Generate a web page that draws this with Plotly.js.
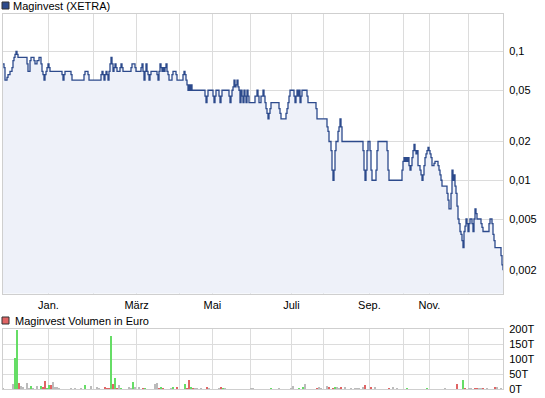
<!DOCTYPE html>
<html>
<head>
<meta charset="utf-8">
<script src="https://cdn.plot.ly/plotly-3.0.1.min.js"></script>
<style>html,body{margin:0;padding:0;background:#fff;}#chart{width:545px;height:398px;}</style>
</head>
<body>
<div id="chart"></div>
<script>
// ---- data ----
const priceDay = [0,0.5,1,2,2.5,3.5,4.5,5,5.5,6,6.5,7,7.5,12,12.5,13.5,14,15.5,16,17,18,19,19.5,20,20.5,21,21.5,22,22.5,23,23.5,29.5,30,30.5,31,34,34.5,40.5,41,42.5,43,49,49.5,50,50.5,51,51.5,52,52.5,53,53.5,54,54.5,55,55.5,56,56.5,57,58.5,59,59.5,60,64,64.5,66,66.5,69,69.5,70,70.5,71,71.5,72,72.5,73,73.5,74,77,77.5,78,78.5,79,79.5,80,80.5,81,81.5,82,82.5,83,84.5,85,86.5,87,90,90.5,91,91.5,92,92.5,93,93.5,94,94.5,101,101.5,102,102.5,105,105.5,106,106.5,108,108.5,109,109.5,113,113.5,114,114.5,115,115.5,116,116.5,117,117.5,118,118.5,119,119.5,120,120.5,121,121.5,122,122.5,123,
126,127,127.5,128,129,130,130.5,131,131.5,132,132.5,133,133.5,134,138,138.5,139,141.5,142,142.5,143,143.5,145.5,146,146.5,147,147.5,148,148.5,149,149.5,152,152.5,156.5,157,162,162.5,163,164,164.5,165,165.5,166,166.5,167.5,168,168.5,169,169.5,180,180.5,181,181.5,182,182.5,183.5,184,184.5,186.5,187,187.5,192,192.5,193,199.5,200,200.5,201,201.5,202,202.5,203,203.5,204,204.5,205,205.5,206,206.5,207,207.5,208.5,209,209.5,210,210.5,211,211.5,212,212.5,213,213.5,214,214.5,215.5,216,217.5,218,218.5,219,219.5,222,222.5,223,224,224.5,225,225.5,226,226.5,227,227.5,228,228.5,229,229.5,230,230.5,231,231.5,232,232.5,233,233.5,234.5,235,235.5,236,236.5,237,239,239.5,240,243,243.5,244.5,245,245.5,246,249,249.5,250];
const priceVal = [0.08,0.075,0.06,0.063,0.066,0.07,0.075,0.085,0.09,0.095,0.1,0.095,0.09,0.08,0.07,0.085,0.09,0.085,0.08,0.085,0.09,0.08,0.07,0.066,0.06,0.066,0.07,0.075,0.08,0.075,0.07,0.066,0.06,0.066,0.07,0.066,0.06,0.066,0.07,0.066,0.06,0.066,0.07,0.066,0.06,0.066,0.07,0.066,0.06,0.07,0.08,0.09,0.08,0.07,0.075,0.08,0.075,0.07,0.075,0.08,0.075,0.07,0.075,0.08,0.075,0.07,0.075,0.08,0.07,0.06,0.07,0.08,0.07,0.066,0.06,0.066,0.07,0.066,0.06,0.07,0.08,0.075,0.07,0.075,0.07,0.075,0.08,0.07,0.066,0.06,0.066,0.07,0.066,0.06,0.066,0.07,0.066,0.06,0.055,0.05,0.055,0.05,0.055,0.05,0.045,0.04,0.045,0.05,0.045,0.04,0.045,0.05,0.045,0.04,0.045,0.05,0.045,0.04,0.045,0.05,0.053,0.06,0.053,0.055,0.06,0.053,0.05,0.04,0.05,0.045,0.04,0.05,0.045,0.04,0.05,0.045,0.04,
0.045,0.05,0.045,0.04,0.045,0.05,0.045,0.04,0.036,0.033,0.03,0.033,0.036,0.04,0.036,0.033,0.03,0.033,0.036,0.04,0.045,0.05,0.045,0.04,0.045,0.05,0.045,0.05,0.04,0.045,0.05,0.045,0.04,0.036,0.03,0.026,0.024,0.02,0.017,0.012,0.01,0.012,0.017,0.02,0.024,0.026,0.03,0.026,0.02,0.017,0.012,0.01,0.012,0.017,0.02,0.017,0.012,0.01,0.012,0.017,0.02,0.017,0.012,0.01,0.012,0.014,0.015,0.014,0.015,0.014,0.015,0.013,0.012,0.013,0.015,0.017,0.019,0.017,0.016,0.017,0.013,0.012,0.011,0.01,0.011,0.013,0.015,0.016,0.017,0.018,0.017,0.016,0.015,0.013,0.0135,0.014,0.013,0.012,0.011,0.01,0.009,0.0079,0.007,0.006,0.0079,0.012,0.01,0.011,0.009,0.0079,0.0063,0.005,0.0046,0.004,0.0038,0.0034,0.003,0.004,0.0044,0.005,0.0046,0.004,0.0046,0.005,0.0046,0.004,0.005,0.006,0.0055,0.005,0.0046,0.0043,0.004,0.0046,0.005,0.0046,0.0038,0.0034,0.003,0.0026,0.0022,0.002];

// volume in thousand euro (T); direction: u = up, d = down, n = unchanged
const volDay = [0,5,6,7,8,9,10,12,13,14,15,17,19,20,21,22,23,24,25,26,27,28,34,36,39,41,44,47,48,51,52,53,54,55,56,57,58,59,63,64,65,66,68,70,71,76,77,78,79,80,84,85,87,91,92,93,94,95,96,97,99,102,103,108,109,110,111,124,125,
134,138,144,145,148,150,151,157,158,159,162,163,165,166,167,168,169,171,174,176,177,178,180,181,184,186,193,195,197,202,212,221,227,230,231,233,234,236,237,238,239,240,242,246,247,249];
const volT = [3,17,104,199,20,10,7,20,4,10,3,10,10,7,27,3,13,13,23,8,8,4,3,3,3,13,10,7,3,7,3,3,178,17,37,3,13,3,7,3,23,7,7,3,3,17,20,3,7,3,3,7,7,17,3,30,7,3,3,3,3,7,3,3,7,3,3,3,3,
3,3,3,10,3,7,17,3,7,3,10,7,3,7,7,3,7,7,3,3,3,3,7,13,7,7,3,7,3,3,3,3,17,30,3,3,3,3,3,3,3,3,3,7,7,3];
const volDir = ['n','n','u','u','d','n','n','n','n','u','n','n','u','d','d','u','u','d','n','n','n','n','n','n','n','u','n','n','n','d','d','d','u','d','u','d','n','u','n','n','u','n','n','d','u','n','n','d','u','d','n','u','d','u','d','d','u','d','n','n','n','d','n','n','d','u','n','n','n',
'u','n','n','n','u','u','n','d','n','n','n','d','d','u','n','n','d','n','n','n','n','n','n','d','d','n','d','n','n','u','u','n','d','u','d','n','n','d','d','n','n','d','n','d','n','n'];

const monthPos = [22.7,45.2,66.8,88.2,104.7,123.8,144.2,160.2,183.2,200.3,213.2,232.8];
const monthLbl = ['Jan.','','März','','Mai','','Juli','','Sep.','','Nov.',''];
const priceTicks = [0.002,0.005,0.01,0.02,0.05,0.1];
const priceTickLbl = ['0,002','0,005','0,01','0,02','0,05','0,1'];
const volTicks = [0,50,100,150,200];
const volTickLbl = ['0T','50T','100T','150T','200T'];
const title1 = 'Maginvest (XETRA)';
const title2 = 'Maginvest Volumen in Euro';

// ---- styling ----
const dirColor = {u:'#66dd66', d:'#e06464', n:'#bbbbbb'};
const grid = '#dcdcdc';
const font = {family:'"Liberation Sans", Arial, sans-serif', size:11, color:'#000'};

const traces = [
  {x: priceDay, y: priceVal, type:'scatter', mode:'lines', line:{shape:'hv', color:'#2c4a8c', width:1.3},
   fill:'tozeroy', fillcolor:'#eef1f9', xaxis:'x', yaxis:'y', hoverinfo:'skip'},
  {x: volDay, y: volT, type:'bar', width:0.8, marker:{color: volDir.map(d => dirColor[d])},
   xaxis:'x2', yaxis:'y2', hoverinfo:'skip'}
];

const H = 398, mt = 14, mb = 9, ph = H - mt - mb;
const pyToPaper = py => (H - mb - py) / ph;
const pxToPaper = px => (px - 3) / 500;

const axX = {range:[0,250], tickvals: monthPos, ticktext: monthLbl, showgrid:true, gridcolor:grid, gridwidth:1,
  zeroline:false, showline:true, linecolor:'#cfcfcf', linewidth:1, mirror:true, ticks:'', tickfont:font, fixedrange:true};
const layout = {
  width:545, height:H, margin:{l:3, r:42, t:mt, b:mb}, paper_bgcolor:'#fff', plot_bgcolor:'#fff',
  showlegend:false, font: font, bargap:0,
  xaxis: Object.assign({}, axX, {anchor:'y', domain:[0,1], ticklabelstandoff:1}),
  yaxis: {type:'log', domain:[pyToPaper(293.5),1], range:[Math.log10(0.00132), Math.log10(0.1954)], side:'right',
    tickvals: priceTicks, ticktext: priceTickLbl, showgrid:true, gridcolor:grid, zeroline:false,
    showline:true, linecolor:'#cfcfcf', mirror:true, ticks:'', tickfont:font, ticklabelstandoff:3, anchor:'x'},
  xaxis2: Object.assign({}, axX, {anchor:'y2', domain:[0,1], showticklabels:false}),
  yaxis2: {domain:[0, pyToPaper(329.3)], range:[0,200], side:'right', tickvals: volTicks, ticktext: volTickLbl,
    showgrid:true, gridcolor:grid, zeroline:false, showline:true, linecolor:'#cfcfcf', mirror:true, ticks:'',
    tickfont:font, ticklabelstandoff:3, anchor:'x2'},
  shapes: [
    {type:'rect', xref:'paper', yref:'paper', x0:pxToPaper(2), x1:pxToPaper(9), y0:pyToPaper(9), y1:pyToPaper(2),
     fillcolor:'#2c4a8c', line:{color:'#333', width:1}},
    {type:'rect', xref:'paper', yref:'paper', x0:pxToPaper(2), x1:pxToPaper(9), y0:pyToPaper(324), y1:pyToPaper(317),
     fillcolor:'#e06464', line:{color:'#333', width:1}}
  ],
  annotations: [
    {text:title1, xref:'paper', yref:'paper', x:pxToPaper(11), y:pyToPaper(6), xanchor:'left', yanchor:'middle', showarrow:false, font:font},
    {text:title2, xref:'paper', yref:'paper', x:pxToPaper(13), y:pyToPaper(320.5), xanchor:'left', yanchor:'middle', showarrow:false, font:font}
  ]
};
Plotly.newPlot('chart', traces, layout, {staticPlot:true, displayModeBar:false});
</script>
</body>
</html>
